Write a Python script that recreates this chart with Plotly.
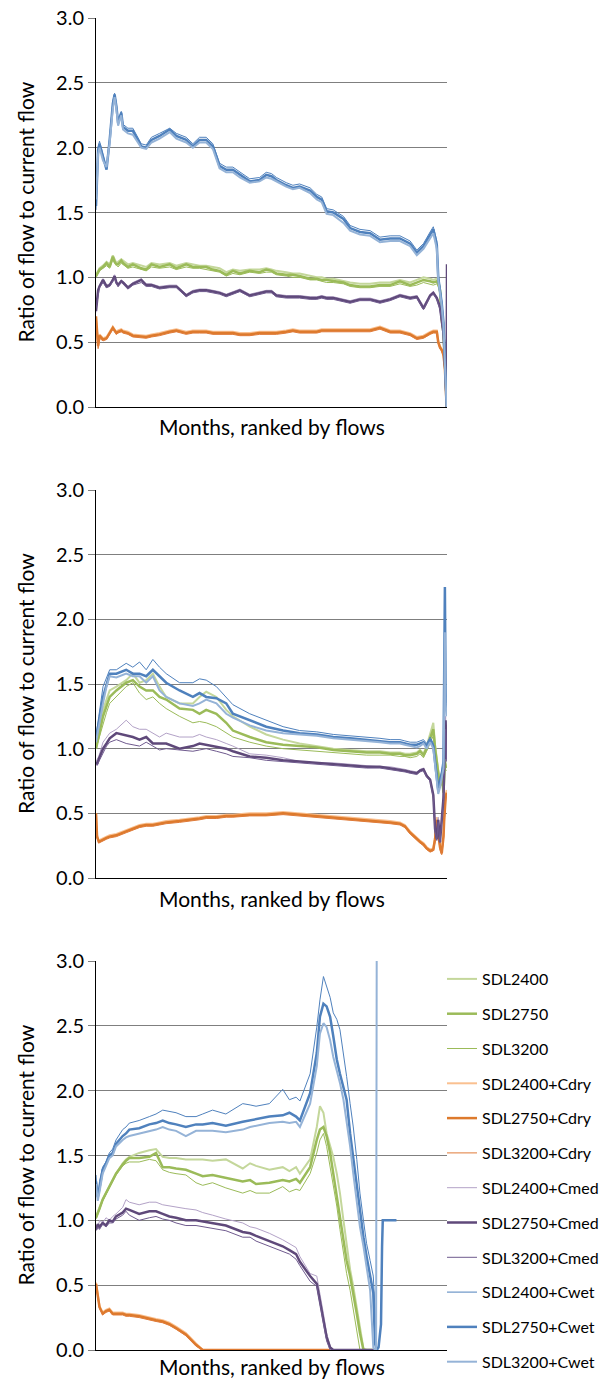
import plotly.graph_objects as go

W, H = 604, 1379

# ---------------- series names / styles ----------------
names = ["SDL2400", "SDL2750", "SDL3200",
         "SDL2400+Cdry", "SDL2750+Cdry", "SDL3200+Cdry",
         "SDL2400+Cmed", "SDL2750+Cmed", "SDL3200+Cmed",
         "SDL2400+Cwet", "SDL2750+Cwet", "SDL3200+Cwet"]
colors = ["#c4d79b", "#9bbb59", "#9bbb59",
          "#fac090", "#dd7a2c", "#e07b39",
          "#b3a2c7", "#5f497a", "#6f5a8e",
          "#4f81bd", "#4f81bd", "#95b3d7"]
widths = [2, 2.5, 1, 2, 2.5, 1, 1, 2.5, 1, 1, 2.5, 2]

# ---------------- panel 1 (x = % of months, ranked) ----------------
x1 = [0, 0.6, 1, 2, 3, 3.9, 4.8, 5.3, 5.8, 6.3,
      7.2, 7.7, 9.1, 10.5, 12.9, 14.3, 15.8, 18.1, 21, 22.9,
      25.7, 27.6, 29.5, 31.4, 33.3, 35.2, 37.1, 39, 41, 43.8,
      46.6, 48.5, 50, 51.4, 54.2, 56.1, 58, 61, 62.9, 64.3,
      65.7, 67.6, 70.5, 72.4, 75.2, 78.1, 80.9, 83.8, 86.6, 89.5,
      91.4, 93.3, 95.2, 96.1, 97.1, 97.5, 98, 98.5, 99, 99.4,
      99.9, 100]

p1_sdl2400 = [1.02, 1.05, 1.07, 1.09, 1.12, 1.10, 1.17, 1.14, 1.11, 1.12,
              1.14, 1.13, 1.10, 1.11, 1.09, 1.08, 1.11, 1.10, 1.11, 1.09,
              1.11, 1.10, 1.09, 1.09, 1.08, 1.07, 1.04, 1.06, 1.05, 1.06,
              1.06, 1.07, 1.06, 1.05, 1.04, 1.03, 1.03, 1.01, 1.00, 1.00,
              0.99, 0.99, 0.97, 0.96, 0.95, 0.95, 0.96, 0.96, 0.98, 0.96,
              0.98, 1.00, 0.99, 0.98, 0.99, 0.97, 0.92, 0.70, 0.59, 0.33,
              0.06, 0.00]
p1_sdl2750 = [1.01, 1.04, 1.06, 1.08, 1.11, 1.08, 1.16, 1.12, 1.10, 1.10,
              1.13, 1.11, 1.08, 1.10, 1.07, 1.06, 1.10, 1.08, 1.10, 1.07,
              1.10, 1.08, 1.08, 1.08, 1.06, 1.05, 1.02, 1.05, 1.03, 1.05,
              1.04, 1.06, 1.05, 1.03, 1.02, 1.02, 1.01, 0.99, 0.99, 0.98,
              0.98, 0.97, 0.96, 0.94, 0.93, 0.93, 0.94, 0.94, 0.97, 0.94,
              0.96, 0.98, 0.97, 0.96, 0.97, 0.95, 0.90, 0.67, 0.57, 0.31,
              0.05, 0.00]
p1_sdl3200 = [1.00, 1.03, 1.05, 1.07, 1.09, 1.07, 1.14, 1.11, 1.09, 1.08,
              1.11, 1.10, 1.07, 1.08, 1.06, 1.05, 1.08, 1.07, 1.08, 1.06,
              1.08, 1.07, 1.07, 1.06, 1.05, 1.04, 1.01, 1.03, 1.02, 1.04,
              1.03, 1.04, 1.04, 1.02, 1.01, 1.00, 1.00, 0.98, 0.98, 0.97,
              0.96, 0.96, 0.95, 0.93, 0.92, 0.92, 0.93, 0.93, 0.95, 0.93,
              0.94, 0.96, 0.95, 0.94, 0.95, 0.93, 0.88, 0.65, 0.55, 0.29,
              0.04, 0.00]
p1_dry2400 = [0.68, 0.48, 0.56, 0.53, 0.54, 0.58, 0.62, 0.60, 0.58, 0.59,
              0.60, 0.59, 0.58, 0.56, 0.55, 0.55, 0.56, 0.57, 0.59, 0.60,
              0.58, 0.59, 0.59, 0.59, 0.58, 0.58, 0.58, 0.58, 0.57, 0.57,
              0.58, 0.58, 0.58, 0.58, 0.59, 0.60, 0.59, 0.59, 0.59, 0.60,
              0.60, 0.60, 0.60, 0.60, 0.60, 0.60, 0.62, 0.59, 0.59, 0.57,
              0.54, 0.55, 0.58, 0.59, 0.59, 0.51, 0.47, 0.45, 0.41, 0.31,
              0.00, 0.00]
p1_dry2750 = [0.70, 0.47, 0.55, 0.52, 0.53, 0.57, 0.61, 0.59, 0.57, 0.58,
              0.59, 0.58, 0.57, 0.55, 0.54, 0.54, 0.55, 0.56, 0.58, 0.59,
              0.57, 0.58, 0.58, 0.58, 0.57, 0.57, 0.57, 0.57, 0.56, 0.56,
              0.57, 0.57, 0.57, 0.57, 0.58, 0.59, 0.58, 0.58, 0.58, 0.59,
              0.59, 0.59, 0.59, 0.59, 0.59, 0.59, 0.61, 0.58, 0.58, 0.56,
              0.53, 0.54, 0.57, 0.58, 0.58, 0.50, 0.46, 0.44, 0.40, 0.30,
              0.00, 0.00]
p1_dry3200 = [0.66, 0.45, 0.53, 0.51, 0.52, 0.56, 0.60, 0.58, 0.56, 0.57,
              0.58, 0.57, 0.56, 0.54, 0.53, 0.53, 0.54, 0.55, 0.57, 0.58,
              0.56, 0.57, 0.57, 0.57, 0.56, 0.56, 0.56, 0.56, 0.55, 0.55,
              0.56, 0.56, 0.56, 0.56, 0.57, 0.58, 0.57, 0.57, 0.57, 0.58,
              0.58, 0.58, 0.58, 0.58, 0.58, 0.58, 0.60, 0.57, 0.57, 0.55,
              0.52, 0.53, 0.56, 0.57, 0.57, 0.49, 0.45, 0.43, 0.39, 0.29,
              0.00, 0.00]
p1_med2400 = [0.73, 0.91, 0.94, 0.99, 0.94, 0.95, 0.99, 1.02, 0.97, 0.95,
              0.98, 0.97, 0.93, 0.96, 0.99, 0.95, 0.95, 0.93, 0.94, 0.94,
              0.87, 0.90, 0.91, 0.91, 0.90, 0.89, 0.87, 0.89, 0.91, 0.87,
              0.89, 0.90, 0.90, 0.87, 0.86, 0.86, 0.86, 0.85, 0.85, 0.86,
              0.85, 0.85, 0.83, 0.82, 0.84, 0.84, 0.82, 0.84, 0.87, 0.85,
              0.86, 0.78, 0.87, 0.89, 0.85, 0.81, 0.78, 0.69, 0.58, 0.37,
              0.06, 0.00]
p1_med2750 = [0.74, 0.90, 0.93, 0.98, 0.93, 0.94, 0.98, 1.01, 0.96, 0.94,
              0.97, 0.96, 0.92, 0.95, 0.98, 0.94, 0.94, 0.92, 0.93, 0.93,
              0.86, 0.89, 0.90, 0.90, 0.89, 0.88, 0.86, 0.88, 0.90, 0.86,
              0.88, 0.89, 0.89, 0.86, 0.85, 0.85, 0.85, 0.84, 0.84, 0.85,
              0.84, 0.84, 0.82, 0.81, 0.83, 0.83, 0.81, 0.83, 0.86, 0.84,
              0.85, 0.76, 0.86, 0.88, 0.84, 0.80, 0.77, 0.67, 0.57, 0.35,
              0.05, 1.10]
p1_med3200 = [0.76, 0.88, 0.92, 0.96, 0.92, 0.93, 0.97, 0.99, 0.95, 0.93,
              0.96, 0.95, 0.91, 0.94, 0.96, 0.93, 0.93, 0.91, 0.92, 0.92,
              0.85, 0.88, 0.89, 0.89, 0.88, 0.87, 0.85, 0.87, 0.89, 0.85,
              0.87, 0.88, 0.88, 0.85, 0.84, 0.84, 0.84, 0.83, 0.83, 0.84,
              0.83, 0.83, 0.81, 0.80, 0.82, 0.82, 0.80, 0.82, 0.85, 0.83,
              0.84, 0.75, 0.85, 0.87, 0.83, 0.79, 0.75, 0.65, 0.55, 0.33,
              0.04, 0.00]
p1_wet2400 = [1.52, 2.00, 2.05, 1.95, 1.84, 2.08, 2.36, 2.42, 2.34, 2.21,
              2.28, 2.18, 2.15, 2.15, 2.03, 2.02, 2.08, 2.11, 2.15, 2.11,
              2.08, 2.03, 2.08, 2.08, 2.03, 1.88, 1.85, 1.85, 1.81, 1.76,
              1.77, 1.81, 1.80, 1.77, 1.73, 1.71, 1.72, 1.69, 1.64, 1.62,
              1.53, 1.52, 1.47, 1.40, 1.37, 1.36, 1.31, 1.32, 1.32, 1.28,
              1.21, 1.26, 1.35, 1.39, 1.28, 1.03, 0.92, 0.82, 0.67, 0.32,
              0.00, 0.00]
p1_wet2750 = [1.55, 1.98, 2.03, 1.93, 1.83, 2.06, 2.34, 2.41, 2.32, 2.19,
              2.27, 2.16, 2.13, 2.13, 2.01, 2.00, 2.06, 2.09, 2.14, 2.09,
              2.06, 2.01, 2.06, 2.06, 2.01, 1.86, 1.83, 1.83, 1.79, 1.74,
              1.75, 1.79, 1.78, 1.75, 1.71, 1.69, 1.70, 1.67, 1.62, 1.60,
              1.51, 1.50, 1.45, 1.38, 1.35, 1.34, 1.29, 1.30, 1.30, 1.26,
              1.19, 1.24, 1.33, 1.37, 1.25, 1.00, 0.90, 0.80, 0.65, 0.30,
              0.00, 0.00]
p1_wet3200 = [1.60, 1.95, 2.00, 1.90, 1.85, 2.04, 2.30, 2.39, 2.30, 2.17,
              2.25, 2.14, 2.11, 2.10, 2.00, 1.99, 2.04, 2.07, 2.12, 2.07,
              2.04, 2.00, 2.04, 2.04, 1.99, 1.84, 1.81, 1.81, 1.77, 1.73,
              1.74, 1.77, 1.76, 1.74, 1.70, 1.68, 1.69, 1.65, 1.60, 1.58,
              1.49, 1.48, 1.42, 1.36, 1.33, 1.32, 1.27, 1.28, 1.28, 1.24,
              1.17, 1.22, 1.30, 1.34, 1.22, 0.98, 0.88, 0.78, 0.62, 0.28,
              0.00, 0.00]

# ---------------- panel 2 ----------------
x2 = [0, 0.3, 0.8, 2, 3, 3.9, 5.8, 8.6, 10.5, 12.4,
      14.3, 16.2, 18.1, 20, 23.8, 27.6, 29.5, 31.4, 34.3, 37.1,
      39, 43.8, 48.5, 53.3, 58, 62.9, 67.6, 72.4, 77.1, 80.9,
      83.8, 86.6, 88, 89.5, 91.4, 92.3, 93.3, 94.2, 95.2, 96.1,
      96.6, 97.1, 97.5, 98, 98.5, 99, 99.2, 99.4, 99.6, 99.9]

p2_sdl2400 = [1.00, 1.05, 1.12, 1.30, 1.38, 1.45, 1.48, 1.53, 1.58, 1.51,
              1.53, 1.58, 1.48, 1.40, 1.35, 1.35, 1.40, 1.44, 1.40, 1.30,
              1.25, 1.17, 1.11, 1.07, 1.04, 1.02, 1.00, 0.99, 0.98, 0.98,
              0.97, 0.97, 0.96, 0.96, 0.97, 0.99, 0.96, 1.02, 1.12, 1.20,
              1.03, 0.90, 0.80, 0.72, 0.82, 0.68, 0.80, 0.92, 0.88, 0.86]
p2_sdl2750 = [1.00, 1.04, 1.10, 1.25, 1.33, 1.40, 1.45, 1.51, 1.53, 1.48,
              1.45, 1.45, 1.40, 1.38, 1.31, 1.30, 1.27, 1.30, 1.27, 1.20,
              1.14, 1.09, 1.05, 1.03, 1.02, 1.01, 0.99, 0.98, 0.97, 0.97,
              0.96, 0.96, 0.95, 0.95, 0.96, 0.98, 0.95, 1.00, 1.08, 1.15,
              1.00, 0.88, 0.78, 0.71, 0.80, 0.66, 0.78, 0.90, 0.86, 0.85]
p2_sdl3200 = [1.00, 1.03, 1.08, 1.20, 1.28, 1.35, 1.40, 1.48, 1.51, 1.43,
              1.38, 1.40, 1.35, 1.31, 1.25, 1.20, 1.21, 1.20, 1.17, 1.12,
              1.09, 1.05, 1.02, 1.00, 0.99, 0.98, 0.97, 0.96, 0.95, 0.95,
              0.95, 0.94, 0.94, 0.93, 0.94, 0.96, 0.93, 0.98, 1.05, 1.10,
              0.98, 0.86, 0.76, 0.70, 0.78, 0.64, 0.75, 0.88, 0.84, 0.83]
p2_dry2400 = [0.50, 0.33, 0.29, 0.31, 0.32, 0.33, 0.34, 0.37, 0.39, 0.41,
              0.42, 0.42, 0.43, 0.44, 0.45, 0.46, 0.47, 0.48, 0.48, 0.49,
              0.49, 0.50, 0.50, 0.51, 0.50, 0.49, 0.48, 0.47, 0.46, 0.45,
              0.44, 0.43, 0.41, 0.36, 0.31, 0.29, 0.27, 0.24, 0.22, 0.23,
              0.32, 0.47, 0.37, 0.26, 0.20, 0.34, 0.47, 0.60, 0.64, 0.68]
p2_dry2750 = [0.50, 0.32, 0.28, 0.30, 0.31, 0.32, 0.33, 0.36, 0.38, 0.40,
              0.41, 0.41, 0.42, 0.43, 0.44, 0.45, 0.46, 0.47, 0.47, 0.48,
              0.48, 0.49, 0.49, 0.50, 0.49, 0.48, 0.47, 0.46, 0.45, 0.44,
              0.43, 0.42, 0.40, 0.35, 0.30, 0.28, 0.26, 0.23, 0.21, 0.22,
              0.30, 0.45, 0.35, 0.24, 0.19, 0.32, 0.45, 0.58, 0.62, 0.66]
p2_dry3200 = [0.49, 0.31, 0.27, 0.29, 0.30, 0.31, 0.32, 0.35, 0.37, 0.39,
              0.40, 0.40, 0.41, 0.42, 0.43, 0.44, 0.45, 0.46, 0.46, 0.47,
              0.47, 0.48, 0.48, 0.49, 0.48, 0.47, 0.46, 0.45, 0.44, 0.43,
              0.42, 0.41, 0.39, 0.34, 0.29, 0.27, 0.25, 0.22, 0.20, 0.21,
              0.28, 0.43, 0.33, 0.22, 0.18, 0.30, 0.43, 0.55, 0.60, 0.64]
p2_med2400 = [0.90, 0.92, 0.94, 1.05, 1.09, 1.12, 1.15, 1.22, 1.17, 1.15,
              1.15, 1.12, 1.09, 1.12, 1.09, 1.09, 1.11, 1.09, 1.07, 1.04,
              1.02, 0.96, 0.95, 0.93, 0.90, 0.89, 0.89, 0.88, 0.87, 0.86,
              0.86, 0.85, 0.84, 0.83, 0.82, 0.84, 0.85, 0.80, 0.77, 0.65,
              0.40, 0.32, 0.47, 0.30, 0.50, 0.65, 0.90, 1.17, 1.25, 0.95]
p2_med2750 = [0.90, 0.88, 0.92, 1.00, 1.04, 1.08, 1.12, 1.10, 1.09, 1.07,
              1.09, 1.04, 1.04, 1.04, 1.00, 1.02, 1.04, 1.03, 1.02, 1.00,
              0.98, 0.94, 0.93, 0.91, 0.90, 0.89, 0.88, 0.87, 0.86, 0.86,
              0.85, 0.84, 0.83, 0.82, 0.81, 0.83, 0.84, 0.79, 0.76, 0.64,
              0.38, 0.30, 0.45, 0.28, 0.48, 0.62, 0.85, 1.10, 1.22, 0.92]
p2_med3200 = [0.88, 0.87, 0.90, 0.97, 1.02, 1.05, 1.07, 1.04, 1.03, 1.02,
              1.05, 1.02, 0.99, 1.00, 0.99, 0.98, 0.99, 1.00, 0.98, 0.96,
              0.94, 0.93, 0.91, 0.90, 0.89, 0.88, 0.87, 0.86, 0.85, 0.85,
              0.84, 0.83, 0.82, 0.81, 0.80, 0.82, 0.83, 0.78, 0.75, 0.62,
              0.36, 0.29, 0.43, 0.27, 0.46, 0.60, 0.80, 1.00, 1.15, 0.90]
p2_wet2400 = [1.10, 1.15, 1.25, 1.48, 1.55, 1.61, 1.61, 1.66, 1.63, 1.67,
              1.61, 1.69, 1.63, 1.58, 1.51, 1.51, 1.54, 1.53, 1.48, 1.40,
              1.34, 1.27, 1.22, 1.17, 1.14, 1.13, 1.11, 1.10, 1.09, 1.08,
              1.07, 1.07, 1.06, 1.05, 1.05, 1.06, 1.07, 1.04, 1.09, 1.04,
              0.93, 0.83, 0.72, 0.78, 0.82, 0.92, 1.40, 2.20, 1.50, 1.35]
p2_wet2750 = [1.08, 1.12, 1.20, 1.40, 1.50, 1.58, 1.58, 1.61, 1.58, 1.58,
              1.56, 1.61, 1.56, 1.51, 1.45, 1.40, 1.43, 1.40, 1.39, 1.35,
              1.27, 1.22, 1.17, 1.14, 1.12, 1.11, 1.09, 1.08, 1.07, 1.06,
              1.05, 1.05, 1.04, 1.03, 1.03, 1.04, 1.05, 1.02, 1.07, 1.02,
              0.90, 0.80, 0.68, 0.74, 0.80, 0.90, 1.43, 2.25, 1.43, 1.30]
p2_wet3200 = [1.05, 1.10, 1.18, 1.35, 1.48, 1.56, 1.55, 1.58, 1.56, 1.56,
              1.51, 1.56, 1.45, 1.40, 1.35, 1.33, 1.35, 1.38, 1.35, 1.27,
              1.24, 1.18, 1.14, 1.12, 1.11, 1.10, 1.08, 1.07, 1.06, 1.05,
              1.04, 1.04, 1.03, 1.02, 1.01, 1.02, 1.04, 1.00, 1.05, 1.00,
              0.88, 0.77, 0.65, 0.70, 0.77, 0.85, 1.30, 1.90, 1.35, 1.25]

# ---------------- panel 3 ----------------
x3 = [0, 0.5, 1, 1.9, 2.85, 3.8, 4.75, 5.7, 7.6, 8.55,
      9.5, 12.3, 15.2, 17.1, 19, 20.9, 22.8, 25.6, 28.5, 30.4,
      33.2, 37, 41.8, 43.9, 45.6, 49.4, 53.2, 55.1, 57, 58.1,
      61, 62.9, 63.8, 64.8, 65.7, 66.7, 67.6, 68.6, 69.5, 70.5,
      71.4, 72.4, 73.3, 74.3, 75.2, 76.2, 77.1, 78.1, 79.0, 79.5,
      79.8, 80.0, 80.5, 81.2, 81.5, 81.7, 85.6]

p3_sdl2400 = [1.03, 1.06, 1.10, 1.16, 1.21, 1.26, 1.31, 1.36, 1.44, 1.47,
              1.49, 1.52, 1.54, 1.55, 1.49, 1.48, 1.48, 1.47, 1.47, 1.47,
              1.46, 1.47, 1.40, 1.44, 1.42, 1.39, 1.41, 1.38, 1.41, 1.36,
              1.47, 1.72, 1.88, 1.83, 1.67, 1.57, 1.49, 1.36, 1.21, 1.00,
              0.80, 0.62, 0.49, 0.33, 0.18, 0.01, 0.00, 0.00, 0.00, 0.00,
              0.00, None, None, None, None, None, None]
p3_sdl2750 = [1.02, 1.05, 1.09, 1.16, 1.21, 1.26, 1.31, 1.36, 1.43, 1.46,
              1.48, 1.48, 1.49, 1.52, 1.41, 1.41, 1.40, 1.39, 1.36, 1.34,
              1.35, 1.33, 1.30, 1.31, 1.28, 1.29, 1.31, 1.30, 1.32, 1.29,
              1.41, 1.62, 1.70, 1.72, 1.65, 1.52, 1.36, 1.21, 1.05, 0.87,
              0.69, 0.57, 0.44, 0.28, 0.13, 0.00, 0.00, 0.00, 0.00, 0.00,
              0.00, None, None, None, None, None, None]
p3_sdl3200 = [1.01, 1.04, 1.08, 1.15, 1.20, 1.25, 1.30, 1.35, 1.42, 1.44,
              1.45, 1.45, 1.47, 1.46, 1.39, 1.37, 1.36, 1.35, 1.29, 1.27,
              1.29, 1.25, 1.21, 1.23, 1.21, 1.21, 1.26, 1.22, 1.24, 1.23,
              1.36, 1.52, 1.62, 1.67, 1.57, 1.41, 1.26, 1.11, 0.93, 0.75,
              0.59, 0.46, 0.31, 0.15, 0.00, 0.00, 0.00, 0.00, 0.00, 0.00,
              0.00, None, None, None, None, None, None]
p3_dry2400 = [0.52, 0.43, 0.34, 0.29, 0.31, 0.32, 0.29, 0.29, 0.29, 0.28,
              0.28, 0.27, 0.25, 0.24, 0.23, 0.21, 0.18, 0.13, 0.05, 0.00,
              0.00, 0.00, 0.00, 0.00, 0.00, 0.00, 0.00, 0.00, 0.00, 0.00,
              0.00, 0.00, 0.00, 0.00, 0.00, 0.00, None, None, None, None,
              None, None, None, None, None, None, None, None, None, None,
              None, None, None, None, None, None, None]
p3_dry2750 = [0.51, 0.42, 0.33, 0.28, 0.30, 0.31, 0.28, 0.28, 0.28, 0.27,
              0.27, 0.26, 0.24, 0.23, 0.22, 0.20, 0.17, 0.12, 0.04, 0.00,
              0.00, 0.00, 0.00, 0.00, 0.00, 0.00, 0.00, 0.00, 0.00, 0.00,
              0.00, 0.00, 0.00, 0.00, 0.00, 0.00, None, None, None, None,
              None, None, None, None, None, None, None, None, None, None,
              None, None, None, None, None, None, None]
p3_dry3200 = [0.50, 0.41, 0.32, 0.27, 0.29, 0.30, 0.27, 0.27, 0.27, 0.26,
              0.26, 0.25, 0.23, 0.22, 0.21, 0.19, 0.16, 0.11, 0.03, 0.00,
              0.00, 0.00, 0.00, 0.00, 0.00, 0.00, 0.00, 0.00, 0.00, 0.00,
              0.00, 0.00, 0.00, 0.00, 0.00, 0.00, None, None, None, None,
              None, None, None, None, None, None, None, None, None, None,
              None, None, None, None, None, None, None]
p3_med2400 = [0.95, 0.93, 1.00, 0.98, 1.02, 1.00, 1.03, 1.05, 1.10, 1.16,
              1.14, 1.12, 1.14, 1.14, 1.12, 1.11, 1.10, 1.09, 1.08, 1.06,
              1.04, 1.01, 0.98, 0.95, 0.94, 0.90, 0.85, 0.82, 0.79, 0.72,
              0.59, 0.57, 0.44, 0.28, 0.13, 0.03, 0.00, 0.00, 0.00, 0.00,
              0.00, 0.00, 0.00, 0.00, 0.00, 0.00, 0.00, 0.00, 0.00, 0.00,
              0.00, None, None, None, None, None, None]
p3_med2750 = [0.93, 0.97, 0.95, 0.98, 0.96, 1.00, 0.99, 1.03, 1.06, 1.09,
              1.08, 1.05, 1.07, 1.07, 1.05, 1.03, 1.02, 1.00, 1.00, 0.99,
              0.98, 0.96, 0.91, 0.90, 0.88, 0.84, 0.80, 0.77, 0.74, 0.68,
              0.57, 0.51, 0.39, 0.23, 0.10, 0.02, 0.00, 0.00, 0.00, 0.00,
              0.00, 0.00, 0.00, 0.00, 0.00, 0.00, 0.00, 0.00, 0.00, 0.00,
              0.00, None, None, None, None, None, None]
p3_med3200 = [0.92, 0.95, 0.93, 0.97, 0.95, 0.98, 0.98, 1.01, 1.04, 1.07,
              1.04, 1.00, 1.02, 1.03, 1.01, 1.00, 0.98, 0.96, 0.96, 0.95,
              0.94, 0.92, 0.87, 0.87, 0.84, 0.80, 0.76, 0.74, 0.70, 0.65,
              0.53, 0.49, 0.36, 0.21, 0.07, 0.00, 0.00, 0.00, 0.00, 0.00,
              0.00, 0.00, 0.00, 0.00, 0.00, 0.00, 0.00, 0.00, 0.00, 0.00,
              0.00, None, None, None, None, None, None]
p3_wet2400 = [1.35, 1.16, 1.30, 1.41, 1.45, 1.52, 1.55, 1.62, 1.70, 1.72,
              1.75, 1.77, 1.80, 1.82, 1.85, 1.84, 1.83, 1.80, 1.80, 1.82,
              1.85, 1.82, 1.90, 1.89, 1.88, 1.90, 2.01, 1.93, 1.95, 1.92,
              2.13, 2.49, 2.70, 2.88, 2.80, 2.72, 2.60, 2.55, 2.47, 2.29,
              2.11, 1.90, 1.72, 1.47, 1.21, 1.00, 0.82, 0.69, 0.57, 0.31,
              0.02, None, None, None, None, None, None]
p3_wet2750 = [1.30, 1.18, 1.25, 1.39, 1.44, 1.50, 1.52, 1.59, 1.65, 1.67,
              1.70, 1.71, 1.74, 1.75, 1.77, 1.75, 1.74, 1.72, 1.74, 1.74,
              1.75, 1.73, 1.76, 1.77, 1.78, 1.80, 1.81, 1.83, 1.80, 1.77,
              1.98, 2.29, 2.57, 2.67, 2.65, 2.57, 2.42, 2.24, 2.13, 2.03,
              1.93, 1.67, 1.47, 1.26, 1.05, 0.87, 0.72, 0.57, 0.44, 0.05,
              0.00, 0.00, 0.02, 0.20, 0.80, 1.00, 1.00]
p3_wet3200 = [1.28, 1.15, 1.22, 1.36, 1.42, 1.48, 1.50, 1.57, 1.62, 1.64,
              1.65, 1.67, 1.69, 1.70, 1.72, 1.70, 1.69, 1.65, 1.69, 1.69,
              1.69, 1.68, 1.70, 1.72, 1.73, 1.75, 1.76, 1.75, 1.76, 1.72,
              1.90, 2.19, 2.44, 2.52, 2.49, 2.39, 2.26, 2.16, 2.06, 1.93,
              1.77, 1.57, 1.36, 1.16, 0.95, 0.80, 0.64, 0.46, 0.02, 0.00,
              0.00, 3.50, None, None, None, None, None]

y_ticks = [0, 0.5, 1.0, 1.5, 2.0, 2.5, 3.0]
y_title = "Ratio of flow to current flow"
x_title = "Months, ranked by flows"

# ---------------- build figure ----------------
panels = [
    (x1, [p1_sdl2400, p1_sdl2750, p1_sdl3200, p1_dry2400, p1_dry2750, p1_dry3200,
          p1_med2400, p1_med2750, p1_med3200, p1_wet2400, p1_wet2750, p1_wet3200]),
    (x2, [p2_sdl2400, p2_sdl2750, p2_sdl3200, p2_dry2400, p2_dry2750, p2_dry3200,
          p2_med2400, p2_med2750, p2_med3200, p2_wet2400, p2_wet2750, p2_wet3200]),
    (x3, [p3_sdl2400, p3_sdl2750, p3_sdl3200, p3_dry2400, p3_dry2750, p3_dry3200,
          p3_med2400, p3_med2750, p3_med3200, p3_wet2400, p3_wet2750, p3_wet3200]),
]
panel_px = [(18, 407), (490, 878), (961, 1350)]   # top / bottom pixel rows
xtitle_px = [427, 898, 1366]                      # centre row of x titles
PL, PR = 96, 447

FONT = "Lato"
fig = go.Figure()
for i, (xs, series) in enumerate(panels):
    sfx = "" if i == 0 else str(i + 1)
    for j, ys in enumerate(series):
        assert len(ys) == len(xs), (i, j, len(ys), len(xs))
        fig.add_trace(go.Scatter(
            x=xs, y=ys, mode="lines", name=names[j],
            line=dict(color=colors[j], width=widths[j]),
            legendgroup=names[j], showlegend=(i == 2),
            xaxis="x" + sfx, yaxis="y" + sfx, hoverinfo="skip"))

layout = dict(
    width=W, height=H,
    margin=dict(l=PL, r=W - PR, t=0, b=0, autoexpand=False),
    paper_bgcolor="white", plot_bgcolor="white",
    font=dict(family=FONT, size=20, color="black"),
    showlegend=True,
    legend=dict(x=(442 - PL) / (PR - PL), xanchor="left",
                y=1 - 962 / H, yanchor="top",
                font=dict(family=FONT, size=16, color="black"),
                traceorder="grouped", tracegroupgap=11,
                itemwidth=30, bgcolor="rgba(0,0,0,0)", borderwidth=0),
)
annotations = []
for i, (top, bot) in enumerate(panel_px):
    sfx = "" if i == 0 else str(i + 1)
    layout["xaxis" + sfx] = dict(
        domain=[0, 1], range=[0, 100], showticklabels=False, showgrid=False,
        zeroline=False, showline=True, linecolor="black", linewidth=1,
        ticks="", anchor="y" + sfx, fixedrange=True)
    layout["yaxis" + sfx] = dict(
        domain=[1 - bot / H, 1 - top / H], range=[0, 3],
        tickmode="array", tickvals=y_ticks, tickformat=".1f",
        showgrid=True, gridcolor="#7f7f7f", gridwidth=1, zeroline=False,
        showline=True, linecolor="black", linewidth=1,
        ticks="outside", ticklen=7, tickcolor="#7f7f7f", tickwidth=1,
        tickfont=dict(family=FONT, size=20, color="black"),
        anchor="x" + sfx, fixedrange=True)
    annotations.append(dict(
        text=y_title, textangle=-90, showarrow=False,
        xref="paper", yref="paper",
        x=(25 - PL) / (PR - PL), y=1 - (top + bot) / 2 / H,
        xanchor="center", yanchor="middle",
        font=dict(family=FONT, size=21, color="black")))
    annotations.append(dict(
        text=x_title, showarrow=False, xref="paper", yref="paper",
        x=0.5, y=1 - xtitle_px[i] / H, xanchor="center", yanchor="middle",
        font=dict(family=FONT, size=21, color="black")))
layout["annotations"] = annotations
fig.update_layout(**layout)

fig.write_html("out.html")
